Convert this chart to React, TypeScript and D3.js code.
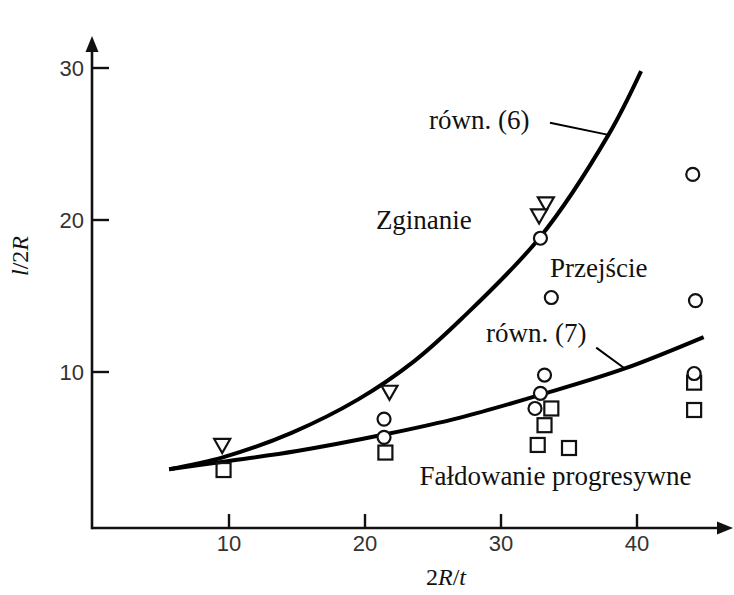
import React, { useEffect, useRef } from "react";
import * as d3 from "d3";

// tick values
const xTicks = [10, 20, 30, 40];
const yTicks = [10, 20, 30];

// curves: [2R/t, l/2R]
const curve6 = [
  [5.6, 3.6], [9.6, 4.4], [14.6, 6.0], [19.5, 8.2], [23.6, 10.7],
  [27.1, 13.5], [32.9, 18.9], [37.9, 25.6], [40.3, 29.8],
];
const curve7 = [
  [5.6, 3.6], [9.6, 4.1], [15, 4.8], [21.5, 5.9], [27, 7.0],
  [32.9, 8.5], [39, 10.2], [44.9, 12.3],
];

// measured points
const circles = [
  [21.4, 6.9], [21.4, 5.7], [32.9, 18.8], [33.7, 14.9], [33.2, 9.8],
  [32.9, 8.6], [32.5, 7.6], [44.1, 23.0], [44.3, 14.7], [44.2, 9.9],
];
const squares = [
  [9.6, 3.55], [21.5, 4.7], [33.7, 7.6], [33.2, 6.5], [32.7, 5.2],
  [35.0, 5.0], [44.2, 9.3], [44.2, 7.5],
];
const triangles = [[9.5, 5.2], [21.8, 8.7], [33.3, 21.1], [32.8, 20.3]];

// labels: text, x, y (baseline, left)
const labels: [string, number, number][] = [
  ["równ. (6)", 24.7, 26.0],
  ["Zginanie", 20.8, 19.4],
  ["Przejście", 33.6, 16.25],
  ["równ. (7)", 28.9, 12.0],
  ["Fałdowanie progresywne", 24.0, 2.57],
];
// leader lines from label to curve
const leaders = [
  [[33.6, 26.4], [37.9, 25.6]],
  [[37.0, 11.6], [39.0, 10.3]],
];

export default function App() {
  const ref = useRef<SVGSVGElement>(null);

  useEffect(() => {
    const width = 734, height = 595;
    const svg = d3.select(ref.current);
    svg.selectAll("*").remove();

    const x = d3.scaleLinear().domain([0, 40]).range([93, 637]);
    const y = d3.scaleLinear().domain([0, 30]).range([524, 68]);
    const axisY = 528, axisX = 92;

    // axes
    svg.append("line")
      .attr("x1", axisX).attr("x2", width - 10)
      .attr("y1", axisY).attr("y2", axisY)
      .attr("stroke", "#111").attr("stroke-width", 2.6);
    svg.append("path")
      .attr("d", `M${width - 1},${axisY} L${width - 17},${axisY - 6.5} L${width - 17},${axisY + 6.5} Z`)
      .attr("fill", "#111");
    svg.append("line")
      .attr("x1", axisX).attr("x2", axisX)
      .attr("y1", axisY + 1.3).attr("y2", 48)
      .attr("stroke", "#111").attr("stroke-width", 2.6);
    svg.append("path")
      .attr("d", `M${axisX},36 L${axisX - 6.5},52 L${axisX + 6.5},52 Z`)
      .attr("fill", "#111");

    // ticks
    xTicks.forEach(t => {
      svg.append("line")
        .attr("x1", x(t)).attr("x2", x(t))
        .attr("y1", axisY).attr("y2", axisY - 14)
        .attr("stroke", "#111").attr("stroke-width", 2.4);
      svg.append("text")
        .attr("x", x(t)).attr("y", axisY + 23)
        .attr("text-anchor", "middle")
        .attr("font-family", "Liberation Sans, Arial, sans-serif")
        .attr("font-size", 22).attr("fill", "#333")
        .text(t);
    });
    yTicks.forEach(t => {
      svg.append("line")
        .attr("x1", axisX).attr("x2", axisX + 17)
        .attr("y1", y(t)).attr("y2", y(t))
        .attr("stroke", "#111").attr("stroke-width", 2.4);
      svg.append("text")
        .attr("x", axisX - 8).attr("y", y(t) + 8)
        .attr("text-anchor", "end")
        .attr("font-family", "Liberation Sans, Arial, sans-serif")
        .attr("font-size", 22).attr("fill", "#333")
        .text(t);
    });

    // axis titles
    const serif = "Liberation Serif, Times New Roman, serif";
    const xt = svg.append("text")
      .attr("x", 446).attr("y", 585)
      .attr("text-anchor", "middle")
      .attr("font-family", serif).attr("font-size", 24).attr("fill", "#111");
    xt.append("tspan").text("2");
    xt.append("tspan").attr("font-style", "italic").text("R");
    xt.append("tspan").text("/");
    xt.append("tspan").attr("font-style", "italic").text("t");

    const yt = svg.append("text")
      .attr("transform", "translate(28,256) rotate(-90)")
      .attr("text-anchor", "middle")
      .attr("font-family", serif).attr("font-size", 24).attr("fill", "#111");
    yt.append("tspan").attr("font-style", "italic").text("l");
    yt.append("tspan").text("/2");
    yt.append("tspan").attr("font-style", "italic").text("R");

    // curves
    const line = d3.line<number[]>()
      .x(d => x(d[0]))
      .y(d => y(d[1]))
      .curve(d3.curveCatmullRom);
    [curve6, curve7].forEach(c => {
      svg.append("path")
        .datum(c)
        .attr("d", line)
        .attr("fill", "none")
        .attr("stroke", "#000")
        .attr("stroke-width", 4);
    });

    leaders.forEach(l => {
      svg.append("line")
        .attr("x1", x(l[0][0])).attr("y1", y(l[0][1]))
        .attr("x2", x(l[1][0])).attr("y2", y(l[1][1]))
        .attr("stroke", "#000").attr("stroke-width", 2);
    });

    // markers
    const mk = { fill: "none", stroke: "#111", sw: 2.2 };
    squares.forEach(d => {
      svg.append("rect")
        .attr("x", x(d[0]) - 7).attr("y", y(d[1]) - 7)
        .attr("width", 14).attr("height", 14)
        .attr("fill", mk.fill).attr("stroke", mk.stroke).attr("stroke-width", mk.sw);
    });
    circles.forEach(d => {
      svg.append("circle")
        .attr("cx", x(d[0])).attr("cy", y(d[1])).attr("r", 6.5)
        .attr("fill", "#fff").attr("stroke", mk.stroke).attr("stroke-width", mk.sw);
    });
    triangles.forEach(d => {
      const cx = x(d[0]), cy = y(d[1]);
      svg.append("path")
        .attr("d", `M${cx - 8},${cy - 6} L${cx + 8},${cy - 6} L${cx},${cy + 8} Z`)
        .attr("fill", "#fff").attr("stroke", mk.stroke).attr("stroke-width", mk.sw)
        .attr("stroke-linejoin", "miter");
    });

    // annotations
    labels.forEach(l => {
      svg.append("text")
        .attr("x", x(l[1])).attr("y", y(l[2]))
        .attr("font-family", serif).attr("font-size", 27).attr("fill", "#111")
        .text(l[0]);
    });
  }, []);

  return (
    <svg
      ref={ref}
      width={734}
      height={595}
      style={{ position: "absolute", left: 0, top: 0, background: "#fff" }}
    />
  );
}
